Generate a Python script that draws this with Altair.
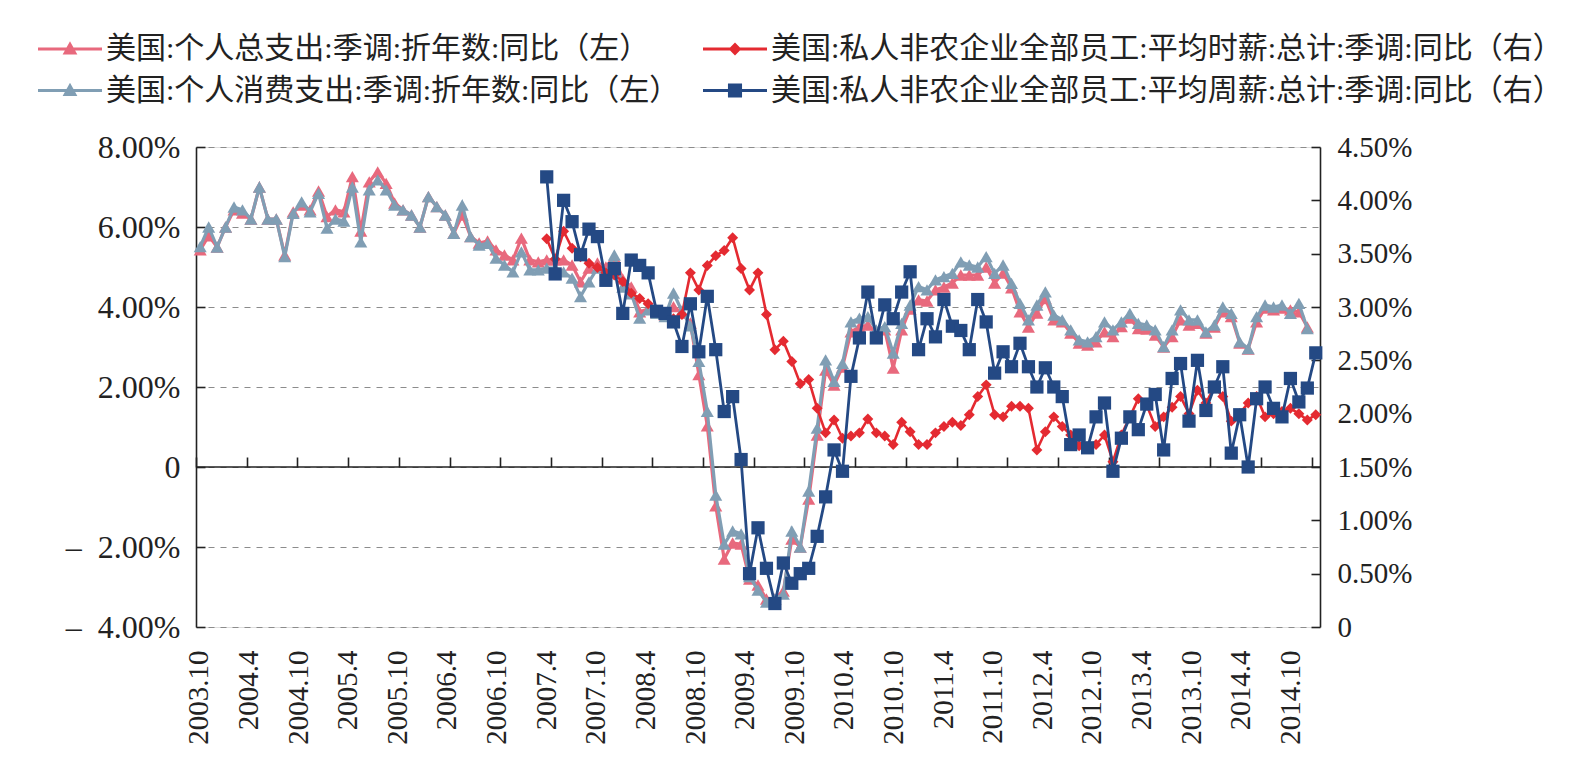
import altair as alt
import pandas as pd

# Monthly series, index 0 = 2003.10
PCE_TOTAL = [
    5.43, 5.78, 5.50, 6.00, 6.43, 6.35, 6.20, 7.00, 6.20, 6.20,
    5.30, 6.38, 6.55, 6.43, 6.90, 6.26, 6.43, 6.38, 7.26, 5.90,
    7.13, 7.38, 7.09, 6.60, 6.43, 6.30, 6.00, 6.76, 6.51, 6.30,
    5.84, 6.30, 5.76, 5.60, 5.65, 5.43, 5.30, 5.18, 5.72, 5.18,
    5.13, 5.18, 5.18, 5.18, 5.05, 4.63, 4.97, 5.10, 5.00, 5.25,
    4.70, 4.50, 3.88, 3.95, 3.85, 3.80, 4.01, 3.85, 3.60, 2.31,
    1.03, -0.97, -2.30, -1.90, -1.93, -2.80, -2.95, -3.30, -3.30, -3.10,
    -1.80, -2.00, -0.80, 0.80, 2.42, 2.05, 2.50, 3.38, 3.50, 3.55,
    3.35, 3.43, 2.47, 3.43, 3.95, 4.18, 4.15, 4.43, 4.50, 4.60,
    4.80, 4.80, 4.80, 5.00, 4.60, 4.85, 4.48, 3.88, 3.50, 3.85,
    4.21, 3.68, 3.63, 3.35, 3.10, 3.05, 3.13, 3.38, 3.26, 3.51,
    3.72, 3.46, 3.45, 3.30, 3.00, 3.26, 3.68, 3.55, 3.59, 3.35,
    3.50, 3.88, 3.76, 3.10, 2.95, 3.63, 3.97, 3.93, 3.97, 3.93,
    3.88, 3.50,
]
PCE_CONS = [
    5.51, 6.00, 5.50, 6.00, 6.50, 6.43, 6.20, 7.00, 6.20, 6.20,
    5.26, 6.34, 6.63, 6.38, 6.84, 5.97, 6.20, 6.15, 7.00, 5.63,
    6.93, 7.18, 6.93, 6.55, 6.43, 6.30, 6.00, 6.76, 6.51, 6.30,
    5.84, 6.55, 5.76, 5.55, 5.59, 5.22, 5.05, 4.88, 5.38, 4.93,
    4.93, 4.97, 4.97, 4.88, 4.72, 4.26, 4.63, 4.97, 4.80, 5.30,
    4.50, 4.33, 3.72, 3.93, 3.84, 3.76, 4.35, 3.90, 3.53, 2.64,
    1.39, -0.70, -1.93, -1.60, -1.67, -2.74, -3.08, -3.38, -3.30, -3.18,
    -1.60, -2.00, -0.60, 0.97, 2.68, 2.14, 2.59, 3.63, 3.72, 3.76,
    3.43, 3.51, 2.85, 3.59, 4.05, 4.51, 4.43, 4.68, 4.76, 4.84,
    5.13, 5.05, 5.00, 5.26, 4.84, 5.05, 4.59, 4.09, 3.68, 4.05,
    4.38, 3.80, 3.68, 3.43, 3.18, 3.13, 3.26, 3.63, 3.43, 3.63,
    3.84, 3.59, 3.55, 3.43, 3.01, 3.43, 3.93, 3.68, 3.68, 3.38,
    3.55, 4.00, 3.84, 3.13, 2.96, 3.76, 4.05, 4.00, 4.05, 3.84,
    4.09, 3.46,
]

# Wage series start at 2007.3 (index 41)
WAGE_START = 41
AHE_HOURLY = [
    3.64, 3.45, 3.71, 3.55, 3.47, 3.41, 3.37, 3.32, 3.30, 3.24,
    3.13, 3.08, 3.03, 2.96, 2.93, 2.89, 2.93, 3.32, 3.16, 3.39,
    3.48, 3.53, 3.65, 3.36, 3.16, 3.32, 2.93, 2.60, 2.68, 2.49,
    2.28, 2.32, 2.05, 1.82, 1.94, 1.77, 1.79, 1.82, 1.95, 1.82,
    1.79, 1.71, 1.92, 1.83, 1.71, 1.71, 1.82, 1.88, 1.92, 1.89,
    1.99, 2.16, 2.27, 1.99, 1.97, 2.07, 2.07, 2.05, 1.66, 1.83,
    1.97, 1.88, 1.80, 1.70, 1.68, 1.71, 1.80, 1.55, 1.80, 1.97,
    2.14, 2.08, 1.88, 1.97, 2.06, 2.16, 2.00, 2.22, 2.10, 2.25,
    2.16, 1.93, 2.00, 2.10, 2.16, 1.97, 2.00, 2.02, 2.05, 2.00,
    1.94, 1.99,
]
AWE_WEEKLY = [
    4.22, 3.31, 4.00, 3.80, 3.49, 3.73, 3.66, 3.25, 3.36, 2.94,
    3.44, 3.39, 3.32, 2.96, 2.94, 2.86, 2.63, 3.03, 2.58, 3.10,
    2.60, 2.02, 2.16, 1.57, 0.50, 0.93, 0.55, 0.22, 0.60, 0.41,
    0.50, 0.55, 0.85, 1.22, 1.66, 1.46, 2.35, 2.71, 3.14, 2.71,
    3.02, 2.89, 3.14, 3.33, 2.60, 2.89, 2.72, 3.07, 2.82, 2.78,
    2.60, 3.07, 2.86, 2.38, 2.58, 2.44, 2.66, 2.44, 2.25, 2.43,
    2.25, 2.16, 1.71, 1.80, 1.68, 1.97, 2.10, 1.46, 1.77, 1.97,
    1.85, 2.09, 2.18, 1.66, 2.33, 2.47, 1.93, 2.50, 2.03, 2.25,
    2.44, 1.63, 1.99, 1.50, 2.14, 2.25, 2.05, 1.97, 2.33, 2.11,
    2.24, 2.57,
]

N_MONTHS = 133
TICK_LABELS = [
    "2003.10", "2004.4", "2004.10", "2005.4", "2005.10", "2006.4",
    "2006.10", "2007.4", "2007.10", "2008.4", "2008.10", "2009.4",
    "2009.10", "2010.4", "2010.10", "2011.4", "2011.10", "2012.4",
    "2012.10", "2013.4", "2013.10", "2014.4", "2014.10",
]

S_TOTAL = "美国:个人总支出:季调:折年数:同比（左）"
S_CONS = "美国:个人消费支出:季调:折年数:同比（左）"
S_HOURLY = "美国:私人非农企业全部员工:平均时薪:总计:季调:同比（右）"
S_WEEKLY = "美国:私人非农企业全部员工:平均周薪:总计:季调:同比（右）"
C_TOTAL, C_CONS, C_HOURLY, C_WEEKLY = "#E8697D", "#809EB4", "#E42A31", "#244984"

# legend glyphs: a short line with the marker in its middle
LEG_TRI = "M-1,-0.05L1,-0.05L1,0.05L-1,0.05Z M0,-0.24L0.23,0.17L-0.23,0.17Z"
LEG_DIA = "M-1,-0.045L1,-0.045L1,0.045L-1,0.045Z M0,-0.2L0.2,0L0,0.2L-0.2,0Z"
LEG_SQ = "M-1,-0.05L1,-0.05L1,0.05L-1,0.05Z M-0.22,-0.22L0.22,-0.22L0.22,0.22L-0.22,0.22Z"

FONT = "Liberation Serif"
LEGEND_FONT = "Liberation Serif, Noto Sans CJK SC"
INK = "#222222"

W, H = 1124, 480

pce_total_df = pd.DataFrame({"idx": range(len(PCE_TOTAL)), "value": PCE_TOTAL})
pce_cons_df = pd.DataFrame({"idx": range(len(PCE_CONS)), "value": PCE_CONS})
hourly_df = pd.DataFrame({"idx": range(WAGE_START, WAGE_START + len(AHE_HOURLY)), "value": AHE_HOURLY})
weekly_df = pd.DataFrame({"idx": range(WAGE_START, WAGE_START + len(AWE_WEEKLY)), "value": AWE_WEEKLY})

x_scale = alt.Scale(domain=[-0.5, N_MONTHS - 0.5], nice=False, zero=False)
left_scale = alt.Scale(domain=[-4, 8], nice=False, zero=False)
right_scale = alt.Scale(domain=[0, 4.5], nice=False, zero=False)
# tick labels are set a little tighter than the month grid
label_scale = alt.Scale(domain=[-0.36, 135.6], nice=False, zero=False)

LEFT_VALUES = [-4, -2, 0, 2, 4, 6, 8]
RIGHT_VALUES = [0, 0.5, 1, 1.5, 2, 2.5, 3, 3.5, 4, 4.5]

left_axis = alt.Axis(
    orient="left", values=LEFT_VALUES, title=None,
    labelExpr="datum.value == 0 ? '0' : (datum.value < 0 ? '\u2013\u2002' : '') + format(abs(datum.value), '.2f') + '%'",
    labelFont=FONT, labelFontSize=32, labelColor=INK, labelPadding=16,
    ticks=False, tickSize=0, domain=True, domainColor=INK, domainWidth=1.6,
    grid=True, gridColor="#8c8c8c", gridDash=[6, 6], gridWidth=1.1,
)
right_axis = alt.Axis(
    orient="right", values=RIGHT_VALUES, title=None,
    labelExpr="datum.value == 0 ? '0' : format(datum.value, '.2f') + '%'",
    labelFont=FONT, labelFontSize=29, labelColor=INK, labelPadding=17,
    ticks=False, tickSize=0, domain=True, domainColor=INK, domainWidth=1.6,
    grid=False,
)
# inward tick marks on both value axes
left_tick_axis = alt.Axis(
    orient="right", offset=-W, values=LEFT_VALUES, title=None, labels=False,
    ticks=True, tickSize=9, tickColor=INK, tickWidth=1.6, domain=False, grid=False,
)
right_tick_axis = alt.Axis(
    orient="left", offset=-W, values=RIGHT_VALUES, title=None, labels=False,
    ticks=True, tickSize=9, tickColor=INK, tickWidth=1.6, domain=False, grid=False,
)
# category tick marks standing on the zero line
x_tick_axis = alt.Axis(
    orient="top", offset=-H * 8 / 12, values=[-0.5 + 6 * k for k in range(23)],
    title=None, labels=False, ticks=True, tickSize=10, tickColor=INK, tickWidth=1.6,
    domain=False, grid=False,
)
label_expr = "[" + ",".join("'%s'" % t for t in TICK_LABELS) + "][round(datum.value / 6)]"
x_label_axis = alt.Axis(
    orient="bottom", values=[6 * k for k in range(len(TICK_LABELS))], title=None,
    labelExpr=label_expr, labelAngle=270, labelFont=FONT, labelFontSize=29,
    labelColor=INK, labelPadding=23, labelFlush=False, labelOverlap=False,
    ticks=False, tickSize=0, domain=False, grid=False,
)


def series_layer(df, color, shape, size, stroke_width, x_enc, y_enc):
    base = alt.Chart(df).encode(x=x_enc, y=y_enc)
    line = base.mark_line(color=color, strokeWidth=stroke_width)
    pts = base.mark_point(color=color, fill=color, filled=True, opacity=1, shape=shape, size=size)
    return alt.layer(line, pts)


x_pce = alt.X("idx:Q", scale=x_scale, axis=x_tick_axis)
y_pce = alt.Y("value:Q", scale=left_scale, axis=left_axis)
x_wage = alt.X("idx:Q", scale=x_scale, axis=None)
y_wage = alt.Y("value:Q", scale=right_scale, axis=right_axis)

pce = alt.layer(
    series_layer(pce_total_df, C_TOTAL, "triangle-up", 170, 3.2, x_pce, y_pce),
    series_layer(pce_cons_df, C_CONS, "triangle-up", 170, 3.2, x_pce, y_pce),
)
wage = alt.layer(
    series_layer(hourly_df, C_HOURLY, "diamond", 120, 2.6, x_wage, y_wage),
    series_layer(weekly_df, C_WEEKLY, "square", 175, 2.8, x_wage, y_wage),
)

zero_line = alt.Chart(pd.DataFrame({"v": [0]})).mark_rule(color=INK, strokeWidth=1.6).encode(
    y=alt.Y("v:Q", scale=left_scale, axis=left_tick_axis)
)

labels_df = pd.DataFrame({"pos": [6 * k for k in range(len(TICK_LABELS))], "base": 0})
tick_labels = alt.Chart(labels_df).mark_point(opacity=0).encode(
    x=alt.X("pos:Q", scale=label_scale, axis=x_label_axis),
    y=alt.Y("base:Q", scale=right_scale, axis=right_tick_axis),
)


def legend_row(names, colors, shapes, y, col_pad):
    leg = alt.Legend(
        title=None, orient="none", legendX=-158, legendY=y, columns=2,
        columnPadding=col_pad, symbolSize=4096, symbolStrokeWidth=0,
        symbolOpacity=1, labelFont=LEGEND_FONT, labelFontSize=30, labelColor=INK,
        labelOffset=4, labelLimit=2000, padding=0,
    )
    return alt.Chart(pd.DataFrame({"series": names})).mark_point(
        filled=True, opacity=1
    ).encode(
        color=alt.Color("series:N", scale=alt.Scale(domain=names, range=colors), legend=leg),
        shape=alt.Shape("series:N", scale=alt.Scale(domain=names, range=shapes), legend=leg),
    ).transform_filter("false")


legend_top = legend_row([S_TOTAL, S_HOURLY], [C_TOTAL, C_HOURLY], [LEG_TRI, LEG_DIA], -130, 53)
legend_bottom = legend_row([S_CONS, S_WEEKLY], [C_CONS, C_WEEKLY], [LEG_TRI, LEG_SQ], -88.5, 23)

chart = alt.layer(zero_line, pce, wage, tick_labels, legend_top, legend_bottom).resolve_scale(
    x="independent", y="independent", color="independent", shape="independent"
).properties(
    width=W, height=H, autosize="none",
    padding={"left": 196, "top": 147, "right": 1586 - 196 - W, "bottom": 763 - 147 - H},
).configure_view(stroke=None).configure(background="white")

chart.save("out.html", embed_options={"renderer": "svg", "actions": False})
